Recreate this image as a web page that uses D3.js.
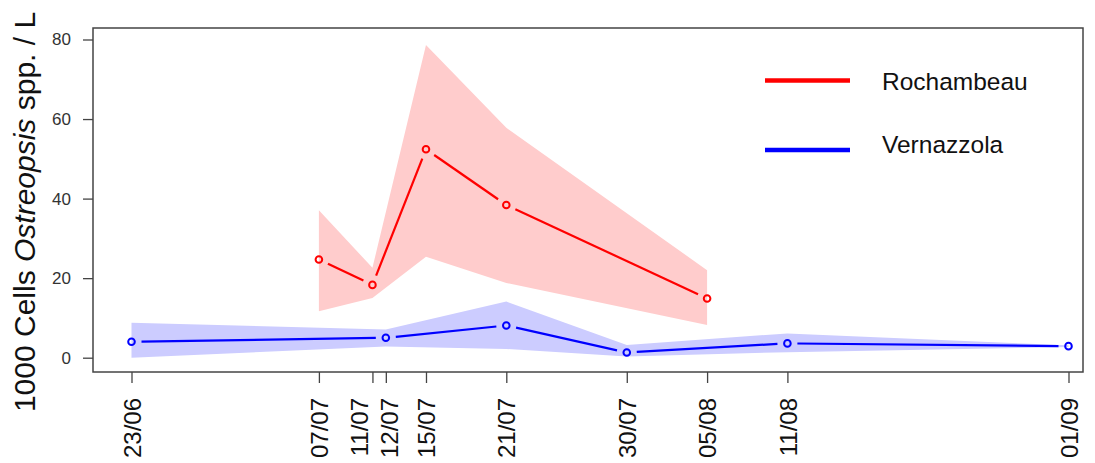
<!DOCTYPE html>
<html><head><meta charset="utf-8">
<script src="https://cdn.jsdelivr.net/npm/d3@7"></script>
<style>body{margin:0;background:#fff}svg{display:block}text{font-family:"Liberation Sans",Arial,sans-serif}</style>
</head><body><svg id="c" width="1095" height="463"></svg>
<script>
const tickDates = ["2019-06-23","2019-07-07","2019-07-11","2019-07-12","2019-07-15","2019-07-21","2019-07-30","2019-08-05","2019-08-11","2019-09-01"];
const rochDates = ["2019-07-07","2019-07-11","2019-07-15","2019-07-21","2019-08-05"];
const rochMean  = [24.7, 18.3, 52.4, 38.4, 14.9];
const rochUpper = [37.1, 22.6, 78.6, 57.8, 22.0];
const rochLower = [11.7, 15.0, 25.4, 18.8, 8.2];
const vernDates = ["2019-06-23","2019-07-12","2019-07-21","2019-07-30","2019-08-11","2019-09-01"];
const vernMean  = [4.0, 5.0, 8.1, 1.3, 3.6, 2.9];
const vernUpper = [8.8, 7.1, 14.1, 3.2, 6.1, 3.1];
const vernLower = [0.0, 2.8, 2.2, 0.3, 1.4, 2.7];
const yTicks = [0, 20, 40, 60, 80];
const seriesNames = ["Rochambeau", "Vernazzola"];

const parse = d3.timeParse("%Y-%m-%d");
const fmt = d3.timeFormat("%d/%m");
const svg = d3.select("#c");
const L = 93, R = 1083, T = 28, B = 372;
const x = d3.scaleTime().domain([parse("2019-06-23"), parse("2019-09-01")]).range([131.5, 1068.5]);
const y = d3.scaleLinear().domain([0, 80]).range([357.7, 39.5]);

function series(dates, mean, up, lo){
  return dates.map((d,i)=>({x:x(parse(d)), y:y(mean[i]), u:y(up[i]), l:y(lo[i])}));
}
const vern = series(vernDates, vernMean, vernUpper, vernLower);
const roch = series(rochDates, rochMean, rochUpper, rochLower);

const area = d3.area().x(d=>d.x).y0(d=>d.l).y1(d=>d.u);
svg.append("path").attr("d", area(vern)).attr("fill", "#ccccff");
svg.append("path").attr("d", area(roch)).attr("fill", "#ffcccc");

function drawLine(pts, col){
  const gap = 10;
  for (let i=0;i<pts.length-1;i++){
    const a=pts[i], b=pts[i+1];
    const dx=b.x-a.x, dy=b.y-a.y, len=Math.hypot(dx,dy);
    if (len <= 2*gap) continue;
    const ux=dx/len, uy=dy/len;
    svg.append("line").attr("x1",a.x+ux*gap).attr("y1",a.y+uy*gap)
      .attr("x2",b.x-ux*gap).attr("y2",b.y-uy*gap)
      .attr("stroke",col).attr("stroke-width",2.2);
  }
  svg.append("g").selectAll("circle").data(pts).join("circle")
    .attr("cx",d=>d.x).attr("cy",d=>d.y).attr("r",3.3)
    .attr("fill","none").attr("stroke",col).attr("stroke-width",2);
}
drawLine(vern, "#0000ff");
drawLine(roch, "#ff0000");

// box
svg.append("rect").attr("x",L).attr("y",T).attr("width",R-L).attr("height",B-T)
  .attr("fill","none").attr("stroke","#444").attr("stroke-width",1.5);

// y axis
const ya = svg.append("g").attr("transform",`translate(${L},0)`)
  .call(d3.axisLeft(y).tickValues(yTicks).tickSize(10).tickPadding(12));
ya.select(".domain").remove();
ya.selectAll(".tick line").attr("stroke","#444").attr("stroke-width",1.3);
ya.selectAll(".tick text").attr("font-size",17).attr("fill","#333")
  .attr("font-family","'Liberation Sans',Arial,sans-serif");

// x axis (labels of the two crowded neighbouring ticks are nudged apart, as in the original)
const xa = svg.append("g").attr("transform",`translate(0,${B})`)
  .call(d3.axisBottom(x).tickValues(tickDates.map(parse)).tickFormat(fmt).tickSize(11));
xa.select(".domain").remove();
xa.selectAll(".tick line").attr("stroke","#444").attr("stroke-width",1.3);
xa.selectAll(".tick text").attr("font-size",24).attr("fill","#111")
  .attr("font-family","'Liberation Sans',Arial,sans-serif")
  .attr("transform","rotate(-90)").attr("text-anchor","end")
  .attr("x",-26)
  .attr("y",d=>{ const s=fmt(d); return s==="11/07" ? -14 : (s==="12/07" ? 3 : 0); })
  .attr("dy","0.36em");

// y title
const yt = svg.append("text").attr("transform","translate(35,212) rotate(-90)")
  .attr("text-anchor","middle").attr("font-size",30).attr("fill","#111");
yt.append("tspan").text("1000 Cells ");
yt.append("tspan").attr("font-style","italic").text("Ostreopsis");
yt.append("tspan").text(" spp. / L");

// legend
const lg = [{n:seriesNames[0], c:"#ff0000", ly:80.5, ty:81.5},{n:seriesNames[1], c:"#0000ff", ly:150, ty:144}];
lg.forEach(d=>{
  svg.append("line").attr("x1",765).attr("x2",850).attr("y1",d.ly).attr("y2",d.ly)
    .attr("stroke",d.c).attr("stroke-width",4.5);
  svg.append("text").attr("x",882).attr("y",d.ty).attr("dy","0.36em")
    .attr("font-size",24.5).attr("fill","#111").text(d.n);
});
</script></body></html>
